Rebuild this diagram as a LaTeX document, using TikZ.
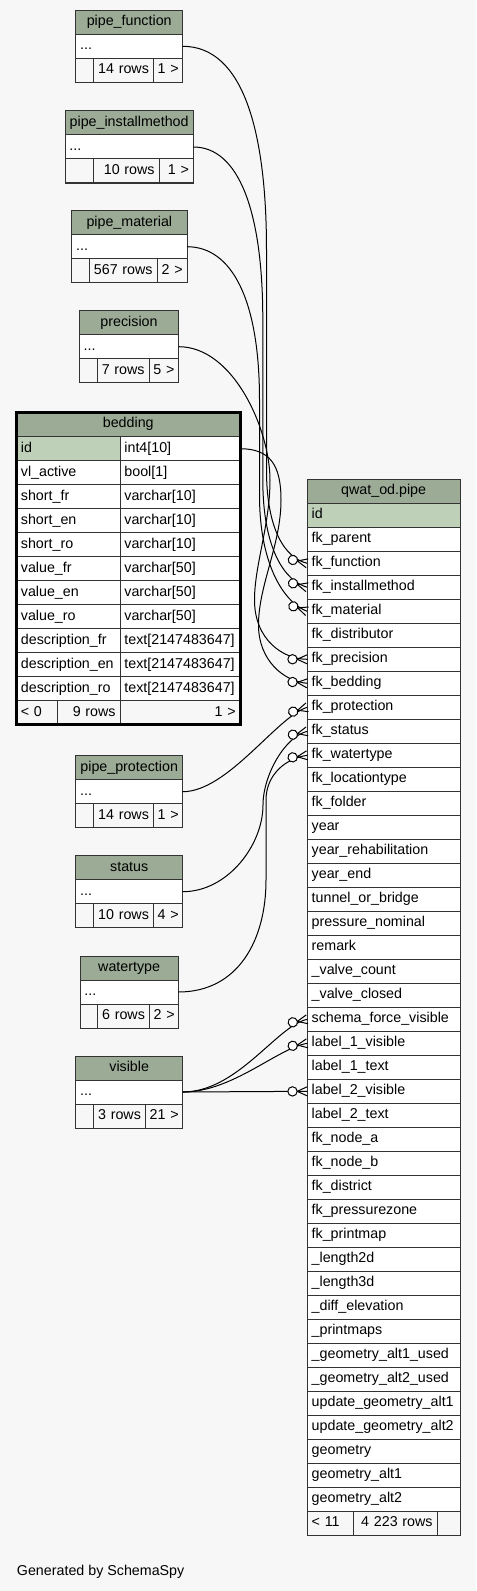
\documentclass[tikz,border=0pt]{standalone}
\usepackage{fontspec}
\setmainfont{Liberation Sans}
\usetikzlibrary{decorations.markings, fit}

\definecolor{headgreen}{HTML}{9BAB96}
\definecolor{keygreen}{HTML}{BED1B8}
\definecolor{paper}{HTML}{F7F7F7}
\definecolor{rule}{HTML}{333333}

\newcommand\tabfont{\fontsize{10.7pt}{12pt}\selectfont}
\hyphenpenalty=10000

% small lookup table: prefix, x, y, title, footer widths, rows, refs
\newcommand\smalltable[9]{%
  \node[cell, headcell, cellw={#5+#6+#7}] (#1-head) at (#2,#3) {#4};
  \node[cell, cellw={#5+#6+#7}] (#1-dots) at (#1-head.south west) {...};
  \node[cell, footcell, cellw=#5] (#1-f1) at (#1-dots.south west) {};
  \node[cell, footcell, cellw=#6, align=right] (#1-f2) at (#1-f1.north east) {\mbox{#8}};
  \node[cell, footcell, cellw=#7, align=right] (#1-f3) at (#1-f2.north east) {\mbox{#9}};
}

\begin{document}
\begin{tikzpicture}[x=0.75pt, y=-0.75pt,
  cell/.style={draw=rule, line width=0.75pt, fill=white, anchor=north west,
    inner xsep=3.3pt, inner ysep=0pt, outer sep=0pt, minimum height=18pt,
    text height=7.8pt, text depth=2.3pt, align=left, font=\tabfont},
  cellw/.style={minimum width={(#1)*0.75pt}, text width={(#1-8.8)*0.75pt}},
  headcell/.style={fill=headgreen, align=center},
  keycell/.style={fill=keygreen},
  footcell/.style={fill=paper},
  fk/.style={draw=black, line width=0.75pt,
    postaction={decorate, decoration={markings, mark=at position -0.1pt with {
      \draw[fill=white, line width=0.75pt] (-11pt,0pt) circle (3.5pt);
      \draw[line width=0.75pt] (-7.5pt,0pt) -- (0pt,3.4pt) (-7.5pt,0pt) -- (0pt,-3.4pt);}}}}]
  \useasboundingbox (0,0) rectangle (476,1591);
  \fill[paper] (0,0) rectangle (476,1591);

  % lookup tables
  \smalltable{fn}{75.7}{10.3}{pipe\_function}{17.6}{60}{29.4}{14 rows}{1 >}
  \smalltable{im}{65}{111}{pipe\_installmethod}{28.3}{65.7}{34.3}{10 rows}{1 >}
  \smalltable{mat}{71.7}{210.7}{pipe\_material}{17.6}{67.7}{30}{567 rows}{2 >}
  \smalltable{prec}{79.3}{310.7}{precision}{17.7}{52}{29.7}{7 rows}{5 >}
  \smalltable{prot}{75.7}{755.7}{pipe\_protection}{17.6}{60}{29.4}{14 rows}{1 >}
  \smalltable{stat}{75.7}{855.7}{status}{17.6}{60}{29.4}{10 rows}{4 >}
  \smalltable{wat}{80}{956}{watertype}{17.3}{52}{29}{6 rows}{2 >}
  \smalltable{vis}{75.7}{1056}{visible}{17.6}{52}{37.4}{3 rows}{21 >}

  % bedding
  \node[cell, headcell, cellw=223.5] (bed-head) at (16.5,412.3) {bedding};
  \node[cell, keycell, cellw=103.5] (bed-id) at (16.5,436.7) {id};
  \node[cell, cellw=120] (bed-id-type) at (bed-id.north east) {int4[10]};
  \foreach \c/\t [count=\i] in {vl_active/bool[1], short_fr/varchar[10],
      short_en/varchar[10], short_ro/varchar[10], value_fr/varchar[50],
      value_en/varchar[50], value_ro/varchar[50], description_fr/text[2147483647],
      description_en/text[2147483647], description_ro/text[2147483647]} {
    \node[cell, cellw=103.5] (bed-\c) at (16.5,{436.7+24*\i}) {\detokenize\expandafter{\c}};
    \node[cell, cellw=120] (bed-\c-type) at (bed-\c.north east) {\t};
  }
  \node[cell, footcell, cellw=41.2] (bed-f1) at (16.5,700.7) {< 0};
  \node[cell, footcell, cellw=62.3, align=right] (bed-f2) at (bed-f1.north east) {9 rows};
  \node[cell, footcell, cellw=120, align=right] (bed-f3) at (bed-f2.north east) {1 >};
  \node[fit=(bed-head)(bed-f3), draw=black, line width=2.25pt, inner sep=0pt] (bedding) {};

  % qwat_od.pipe
  \node[cell, headcell, cellw=152.7] (pipe-head) at (307.3,479.3) {qwat\_od.pipe};
  \node[cell, keycell, cellw=152.7] (pipe-id) at (pipe-head.south west) {id};
  \foreach \r [count=\i] in {fk_parent, fk_function, fk_installmethod, fk_material,
      fk_distributor, fk_precision, fk_bedding, fk_protection, fk_status,
      fk_watertype, fk_locationtype, fk_folder, year, year_rehabilitation,
      year_end, tunnel_or_bridge, pressure_nominal, remark, _valve_count,
      _valve_closed, schema_force_visible, label_1_visible, label_1_text,
      label_2_visible, label_2_text, fk_node_a, fk_node_b, fk_district,
      fk_pressurezone, fk_printmap, _length2d, _length3d, _diff_elevation,
      _printmaps, _geometry_alt1_used, _geometry_alt2_used,
      update_geometry_alt1, update_geometry_alt2, geometry, geometry_alt1,
      geometry_alt2}
    \node[cell, cellw=152.7] (pipe-\r) at (307.3,{503.3+24*\i}) {\detokenize\expandafter{\r}};
  \node[cell, footcell, cellw=46] (pipe-f1) at (307.3,1511.3) {< 11};
  \node[cell, footcell, cellw=83.7, align=right] (pipe-f2) at (pipe-f1.north east) {4 223 rows};
  \node[cell, footcell, cellw=23] (pipe-f3) at (pipe-f2.north east) {};

  % foreign keys
  \draw[fk] (fn-dots.east) .. controls +(60,0) and +(0,-120) .. (266.5,250) -- (266.5,470)
    .. controls +(0,60) and +(-22,-5) .. (pipe-fk_function.west);
  \draw[fk] (im-dots.east) .. controls +(45,0) and +(0,-110) .. (262.8,320) -- (262.8,480)
    .. controls +(0,70) and +(-22,-6) .. (pipe-fk_installmethod.west);
  \draw[fk] (mat-dots.east) .. controls +(45,0) and +(0,-100) .. (259.5,400) -- (259.5,495)
    .. controls +(0,75) and +(-20,-7) .. (pipe-fk_material.west);
  \draw[fk] (prec-dots.east) .. controls +(55,0) and +(0,-50) .. (270,480)
    .. controls +(0,45) and +(0,-35) .. (254.5,600)
    .. controls +(0,40) and +(-24,0) .. (pipe-fk_precision.west);
  \draw[fk] (bed-id-type.east) .. controls +(30,0) and +(0,-35) .. (281,500)
    .. controls +(0,45) and +(0,-40) .. (258.5,625)
    .. controls +(0,35) and +(-24,-2) .. (pipe-fk_bedding.west);
  \draw[fk] (prot-dots.east) .. controls +(45,0) and +(-30,9) .. (pipe-fk_protection.west);
  \draw[fk] (stat-dots.east) .. controls +(45,0) and +(0,40) .. (263,805)
    .. controls +(0,-30) and +(-22,5) .. (pipe-fk_status.west);
  \draw[fk] (wat-dots.east) .. controls +(60,0) and +(0,60) .. (266,880) -- (266,800)
    .. controls +(0,-25) and +(-22,3) .. (pipe-fk_watertype.west);
  \draw[fk] (vis-dots.east) .. controls +(55,0) and +(-30,6) .. (pipe-schema_force_visible.west);
  \draw[fk] (vis-dots.east) .. controls +(50,0) and +(-30,5) .. (pipe-label_1_visible.west);
  \draw[fk] (vis-dots.east) -- (pipe-label_2_visible.west);

  \node[anchor=base west, inner sep=0pt, font=\tabfont] (credit) at (16.7,1575) {Generated by SchemaSpy};
\end{tikzpicture}
\end{document}
